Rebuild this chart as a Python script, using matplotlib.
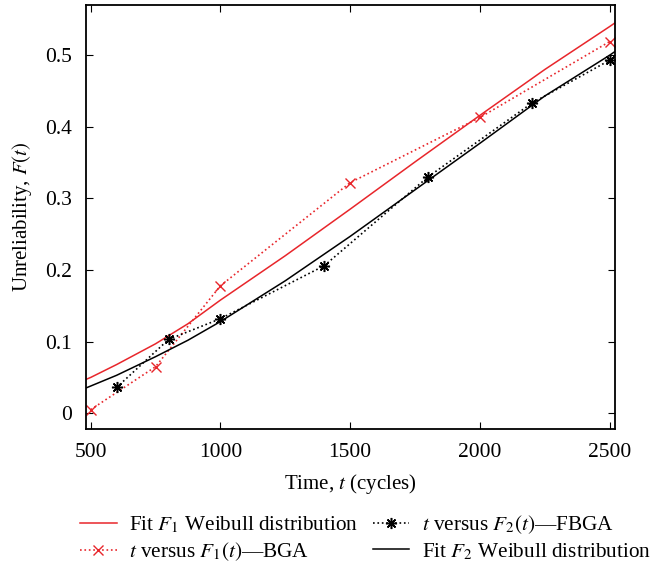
import matplotlib

matplotlib.use("Agg")
import matplotlib.pyplot as plt

plt.rcParams["font.family"] = ["Liberation Serif", "DejaVu Serif"]
plt.rcParams["mathtext.fontset"] = "stix"

# observed points
t_bga = [500, 750, 1000, 1500, 2000, 2500]
f1_bga = [0.005, 0.065, 0.178, 0.322, 0.413, 0.519]
t_fbga = [600, 800, 1000, 1400, 1800, 2200, 2500]
f2_fbga = [0.036, 0.103, 0.132, 0.206, 0.330, 0.433, 0.493]

# Weibull fit curves
t_fit = [480, 500, 600, 750, 875, 1000, 1250, 1500, 1750, 2000, 2250, 2500, 2520]
f1_fit = [0.047, 0.050, 0.068, 0.097, 0.125, 0.158, 0.220, 0.285, 0.351,
          0.416, 0.480, 0.540, 0.545]
f2_fit = [0.035, 0.038, 0.053, 0.079, 0.102, 0.128, 0.185, 0.247, 0.312,
          0.377, 0.443, 0.500, 0.505]

xticks = [500, 1000, 1500, 2000, 2500]
yticks = [0, 0.1, 0.2, 0.3, 0.4, 0.5]
ytick_labels = ["0", "0.1", "0.2", "0.3", "0.4", "0.5"]

fig = plt.figure(figsize=(6.59, 5.63), dpi=100)
ax = fig.add_axes([0.1305, 0.238, 0.8025, 0.753])

red = "#e8262b"
l1, = ax.plot(t_fit, f1_fit, color=red, lw=1.1)
l2, = ax.plot(t_bga, f1_bga, color=red, ls=":", lw=1.2, marker="x",
              ms=7, mew=1.0)
l3, = ax.plot(t_fbga, f2_fbga, color="black", ls=":", lw=1.2,
              marker=(8, 2, 0), ms=8, mew=1.1)
l4, = ax.plot(t_fit, f2_fit, color="black", lw=1.1)

ax.set_xlim(482, 2520)
ax.set_ylim(-0.022, 0.57)
ax.set_xticks(xticks)
ax.set_yticks(yticks)
ax.set_yticklabels(ytick_labels)
ax.tick_params(direction="in", top=True, right=True, labelsize=15.5,
               length=5, pad=10)
for s in ax.spines.values():
    s.set_linewidth(1.3)

ax.set_xlabel("Time, $t$ (cycles)", fontsize=15, labelpad=7)
ax.set_ylabel("Unreliability, $F(t)$", fontsize=15, labelpad=8)

fig.legend([l1, l2, l3, l4],
           ["Fit $F_1$ Weibull distribution", "$t$ versus $F_1(t)$—BGA",
            "$t$ versus $F_2(t)$—FBGA", "Fit $F_2$ Weibull distribution"],
           loc="lower center", bbox_to_anchor=(0.555, -0.034), ncol=2,
           frameon=False, fontsize=15.3, handlelength=1.7, handletextpad=0.6,
           columnspacing=0.7, labelspacing=0.25)

fig.savefig("out.png", dpi=100)
